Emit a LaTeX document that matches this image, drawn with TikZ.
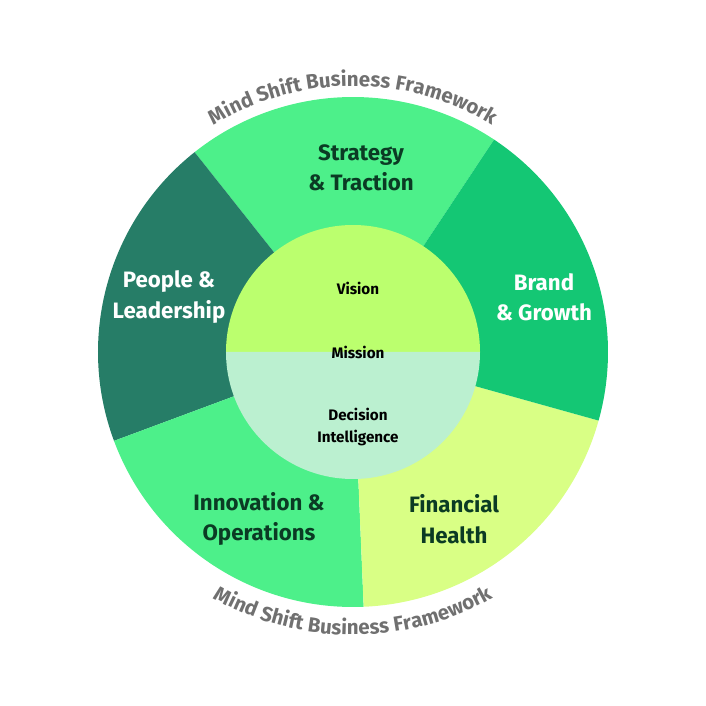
\documentclass[tikz,border=0pt]{standalone}
\usepackage{fontspec}
\setmainfont{Fira Sans}
\usetikzlibrary{decorations.text}
\definecolor{cDark}{HTML}{267D67}
\definecolor{cMid}{HTML}{4DF08A}
\definecolor{cBrand}{HTML}{14C774}
\definecolor{cFin}{HTML}{D9FF85}
\definecolor{cVis}{HTML}{BBFF6E}
\definecolor{cDec}{HTML}{BBF0D0}
\definecolor{cTxt}{HTML}{0B3B24}
\definecolor{cGray}{HTML}{707070}
\tikzset{
  lbl/.style={align=center, font=\fontsize{19}{26}\selectfont\bfseries, text=cTxt},
  lblw/.style={lbl, text=white},
  inl/.style={align=center, font=\fontsize{13}{18}\selectfont\bfseries, text=black},
}
\begin{document}
\begin{tikzpicture}[x=0.03cm,y=0.03cm]
\useasboundingbox (-353,-354) rectangle (353,352);
\def\R{255}
\fill[cMid]   (0,0) -- (56.4:\R) arc (56.4:128.4:\R) -- cycle;
\fill[cDark]  (0,0) -- (128.4:\R) arc (128.4:200.4:\R) -- cycle;
\fill[cMid]   (0,0) -- (200.4:\R) arc (200.4:272.4:\R) -- cycle;
\fill[cFin]   (0,0) -- (272.4:\R) arc (272.4:344.4:\R) -- cycle;
\fill[cBrand] (0,0) -- (-15.6:\R) arc (-15.6:56.4:\R) -- cycle;
\fill[cVis] (127,0) arc (0:180:127) -- cycle;
\fill[cDec] (-127,0) arc (180:360:127) -- cycle;
\node[lbl]  (strat) at (8,184) {Strategy\\\& Traction};
\node[lblw] (brand) at (191,55) {Brand\\\& Growth};
\node[lbl]  (fin)   at (101,-167) {Financial\\Health};
\node[lbl]  (innov) at (-94,-167) {Innovation \&\\Operations};
\node[lblw] (peop)  at (-184,55) {People \&\\Leadership};
\node[inl] (vis) at (5,64) {Vision};
\node[inl] (mis) at (5,0) {Mission};
\node[inl] (dec) at (5,-75) {Decision\\Intelligence};
\path[decorate, decoration={text along path, text align=center,
  text={|\fontsize{17.5}{20}\selectfont\bfseries\color{cGray}|Mind Shift Business Framework}}]
  (130:266) arc (130:50:266);
\path[decorate, decoration={text along path, text align=center,
  text={|\fontsize{17.5}{20}\selectfont\bfseries\color{cGray}|Mind Shift Business Framework}}]
  (232:283) arc (232:308:283);
\end{tikzpicture}
\end{document}
